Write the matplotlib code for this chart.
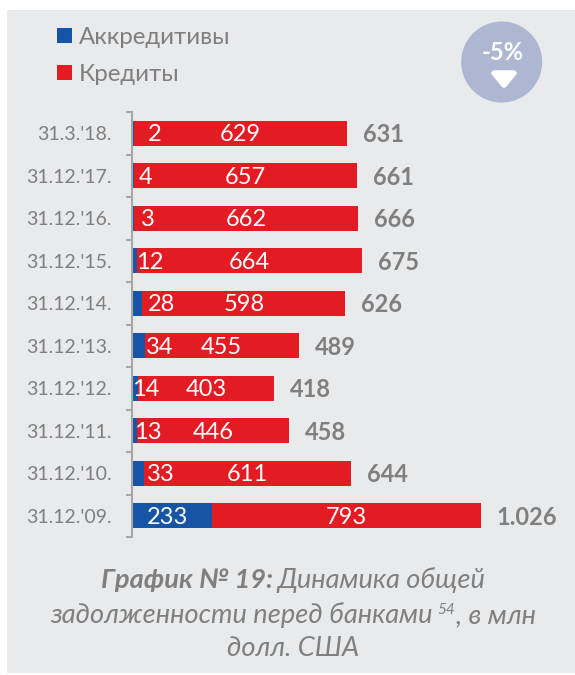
import matplotlib
matplotlib.use("Agg")
import matplotlib.pyplot as plt
from matplotlib.patches import Rectangle, Circle, Polygon

FONT = ["Lato", "Open Sans", "DejaVu Sans"]
plt.rcParams["font.family"] = FONT

dates = ["31.3.'18.", "31.12.'17.", "31.12.'16.", "31.12.'15.", "31.12.'14.",
         "31.12.'13.", "31.12.'12.", "31.12.'11.", "31.12.'10.", "31.12.'09."]
letters = [2, 4, 3, 12, 28, 34, 14, 13, 33, 233]
credits = [629, 657, 662, 664, 598, 455, 403, 446, 611, 793]
totals = ["631", "661", "666", "675", "626", "489", "418", "458", "644", "1.026"]

# where the small blue values were placed by hand in the original, in data units
letters_label_x = [65, 38, 44, 50, 85, 80, 38, 44, 83, 103]

GREY = "#7f7f7f"
RED = "#e31b23"
BLUE = "#1655a6"
W, H = 575, 675


def draw_runs(fig, overlay, y, runs):
    # one centred line made of pieces with different styles
    renderer = fig.canvas.get_renderer()
    texts = []
    total = 0
    for run in runs:
        t = overlay.text(0, y + run.get("dy", 0), run["s"], color=GREY, style="italic",
                         fontsize=run.get("size", 19.6), weight=run.get("weight", "normal"),
                         va="baseline", ha="left")
        w = t.get_window_extent(renderer).width
        adv = w + run.get("gap", 0)
        texts.append((t, adv))
        total += adv
    x = 293 - total / 2
    for t, adv in texts:
        t.set_x(x)
        x += adv


def main():
    fig = plt.figure(figsize=(W / 100, H / 100), dpi=100, facecolor="white")

    # pixel overlay for the panel, badge and caption
    overlay = fig.add_axes([0, 0, 1, 1], zorder=0)
    overlay.set_xlim(0, W)
    overlay.set_ylim(H, 0)
    overlay.axis("off")
    overlay.add_patch(Rectangle((7, 10), W - 7, 663, color="#e9eaec", lw=0))
    overlay.add_patch(Circle((501.7, 62), 40.5, color="#aeb7d2", lw=0))
    overlay.add_patch(Polygon([(494, 73), (514, 73), (504, 85)], closed=True, fc="white",
                              ec="white", lw=4, joinstyle="round"))
    overlay.text(503, 52, "-5%", color="white", fontsize=17, weight="bold", ha="center", va="center")

    draw_runs(fig, overlay, 588, [
        {"s": "График № 19:", "weight": "bold", "gap": 5},
        {"s": "Динамика общей"},
    ])
    draw_runs(fig, overlay, 623, [
        {"s": "задолженности перед банками", "gap": 5},
        {"s": "54", "size": 11, "dy": -9, "gap": 1},
        {"s": ", в млн"},
    ])
    draw_runs(fig, overlay, 656, [{"s": "долл. США"}])

    # bars, 0.339 px per unit from x=133
    ax = fig.add_axes([133 / W, 1 - 537 / H, (W - 133) / W, 425 / H], zorder=1)
    ax.patch.set_alpha(0)
    ax.set_xlim(0, (W - 133) / 0.339)
    ax.set_ylim(len(dates) - 0.5, -0.5)

    ys = list(range(len(dates)))
    h1 = ax.barh(ys, letters, height=0.58, color=BLUE, lw=0, label="Аккредитивы")
    h2 = ax.barh(ys, credits, left=letters, height=0.58, color=RED, lw=0, label="Кредиты")

    for i in ys:
        ax.text(letters_label_x[i], i + 0.04, str(letters[i]), color="white", fontsize=17,
                ha="center", va="center")
        ax.text(letters[i] + credits[i] / 2, i + 0.04, str(credits[i]), color="white", fontsize=17,
                ha="center", va="center")
        ax.text(letters[i] + credits[i] + 47, i + 0.04, totals[i], color=GREY, fontsize=17,
                weight="bold", ha="left", va="center")

    for side in ["top", "right", "bottom"]:
        ax.spines[side].set_visible(False)
    ax.spines["left"].set_color("#a6a6a6")
    ax.spines["left"].set_linewidth(1.5)
    ax.spines["left"].set_position(("outward", 0.75))
    ax.set_xticks([])
    ax.set_yticks(ys)
    ax.set_yticklabels(dates, color=GREY, fontsize=14)
    ax.tick_params(axis="y", which="major", length=0, pad=14.5)
    ax.set_yticks([i - 0.5 for i in range(len(dates) + 1)], minor=True)
    ax.tick_params(axis="y", which="minor", length=4, width=1.5, color="#a6a6a6")

    fig.legend(handles=[h1, h2], loc="upper left", bbox_to_anchor=(57 / W, 1 - 27 / H),
               frameon=False, fontsize=17.3, labelcolor=GREY, handlelength=0.63, handleheight=0.63,
               handletextpad=0.28, labelspacing=0.66, borderpad=0, borderaxespad=0)

    fig.savefig("out.png", dpi=100, facecolor="white")


if __name__ == '__main__':
    main()
